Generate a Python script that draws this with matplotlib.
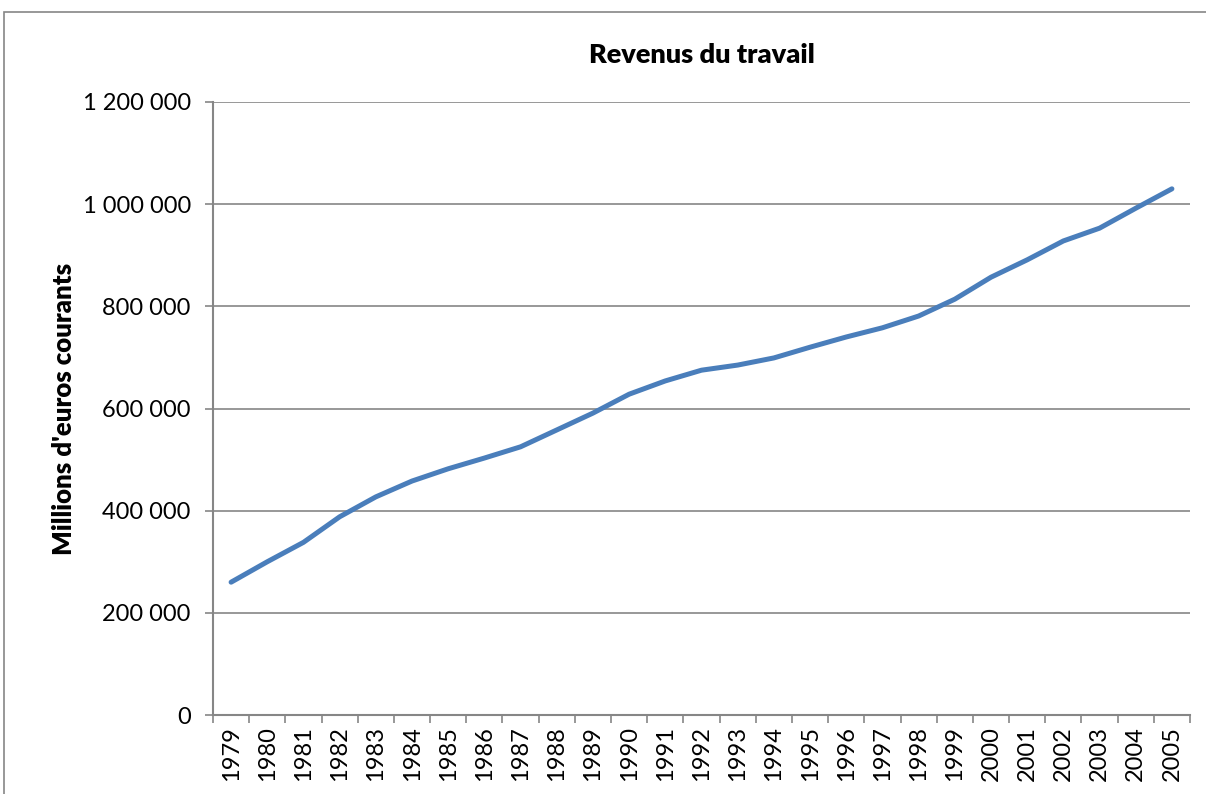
import matplotlib
matplotlib.use("Agg")
import matplotlib.pyplot as plt
from matplotlib.patches import Rectangle
from matplotlib.ticker import FuncFormatter

years = list(range(1979, 2006))
values = [260000, 300000, 338000, 388000, 427000, 458000, 482000, 503000, 525000,
          558000, 591000, 628000, 654000, 675000, 685000, 699000, 720000, 740000,
          758000, 781000, 814000, 857000, 891000, 928000, 953000, 992000, 1030000]
yticks = [0, 200000, 400000, 600000, 800000, 1000000, 1200000]
title = "Revenus du travail"
ylabel = "Millions d'euros courants"

plt.rcParams['font.family'] = ['Lato', 'DejaVu Sans']
fig = plt.figure(figsize=(12.06, 7.94), dpi=100)
fig.patches.append(Rectangle((4/1206, -0.1), 1.2, (794-12)/794 + 0.1, transform=fig.transFigure,
                             fill=False, edgecolor='#868686', linewidth=1.2))
ax = fig.add_axes([213/1206, 79/794, 977/1206, 613/794])
xs = [i + 0.5 for i in range(len(years))]
ax.plot(xs, values, color='#4A7EBB', linewidth=3.6, solid_capstyle='round', solid_joinstyle='round', zorder=3)
ax.set_xlim(0, len(years))
ax.set_ylim(0, 1200000)
ax.set_yticks(yticks)
ax.yaxis.set_major_formatter(FuncFormatter(lambda v, p: f"{int(v):,}".replace(",", " ")))
ax.grid(axis='y', color='#868686', linewidth=1.2)
ax.set_axisbelow(True)
ax.set_xticks(range(len(years) + 1))
ax.set_xticklabels([])
ax.set_xticks(xs, minor=True)
ax.set_xticklabels([str(y) for y in years], minor=True, rotation=90, fontsize=17)
ax.tick_params(axis='x', which='minor', length=0, pad=8)
ax.tick_params(axis='x', which='major', length=6, color='#868686', width=1.2, direction='out')
ax.tick_params(axis='y', length=6, color='#868686', width=1.2, labelsize=17, pad=10)
for s in ['top', 'right']:
    ax.spines[s].set_visible(False)
for s in ['left', 'bottom']:
    ax.spines[s].set_color('#868686')
    ax.spines[s].set_linewidth(1.5)
ax.set_title(title, fontsize=19.5, fontweight='heavy', pad=28)
ax.set_ylabel(ylabel, fontsize=18.5, fontweight='heavy', labelpad=5)
fig.savefig("out.png", dpi=100)
